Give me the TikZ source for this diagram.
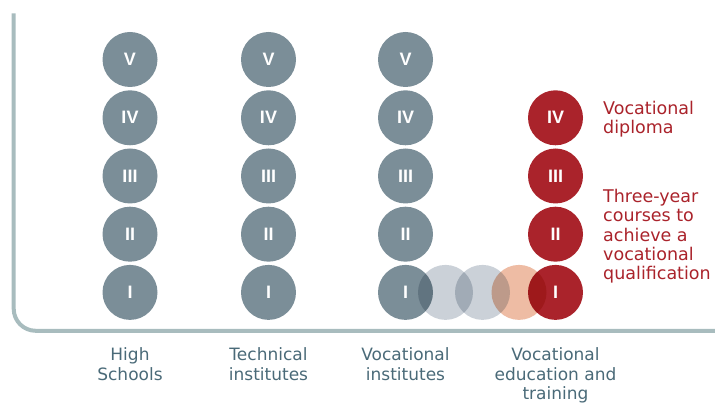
\documentclass[tikz,border=0pt]{standalone}
\usepackage{fontspec}
\setmainfont{DejaVu Sans}
\newfontfamily\numfont{Liberation Sans}
\definecolor{frame}{HTML}{A8BCBE}
\definecolor{dgrey}{HTML}{7B8E98}
\definecolor{lgrey}{HTML}{CBD1D8}
\definecolor{peach}{HTML}{EEBCA4}
\definecolor{vred}{HTML}{AA232B}
\definecolor{labelc}{HTML}{4A6A78}
\tikzset{
  numf/.style={text=white, font=\numfont\fontsize{18}{20}\selectfont\bfseries},
  yr/.style={circle, minimum size=55pt, inner sep=0pt, numf},
  gy/.style={yr, fill=dgrey},
  rd/.style={yr, fill=vred},
  ghost/.style={circle, minimum size=55pt, inner sep=0pt},
  lbl/.style={anchor=north, align=center, inner sep=0pt, text=labelc, font=\fontsize{17}{19.5}\selectfont},
  note/.style={anchor=north west, align=left, inner sep=0pt, text=vred, font=\fontsize{17.5}{19.3}\selectfont},
}
\begin{document}
\begin{tikzpicture}[x=1pt,y=-1pt]
\useasboundingbox (0,0) rectangle (715,403);
% frame
\coordinate (ftop) at (13.7,13.3);
\coordinate (fend) at (716,330.8);
\draw[frame, line width=4pt, rounded corners=22pt] (ftop) -- (13.7,330.8) -- (fend);
% columns
\foreach \c/\x in {hs/130, ti/268.5, vi/405.5}{
  \node[gy] (\c5) at (\x,59.5) {V};
  \node[gy] (\c4) at (\x,117.8) {IV};
  \node[gy] (\c3) at (\x,176) {III};
  \node[gy] (\c2) at (\x,234.2) {II};
}
\node[gy] (hs1) at (130,292.4) {};
\node[gy] (ti1) at (268.5,292.4) {};
\node[rd] (ve4) at (555.5,117.8) {IV};
\node[rd] (ve3) at (555.5,176) {III};
\node[rd] (ve2) at (555.5,234.2) {II};
% transition circles (multiply blend)
\begin{scope}[blend group=multiply]
  \node[ghost, fill=dgrey] (vi1) at (405.5,292.4) {};
  \node[ghost, fill=lgrey] (g1) at (445.5,292.4) {};
  \node[ghost, fill=lgrey] (g2) at (482.5,292.4) {};
  \node[ghost, fill=peach] (g3) at (519,292.4) {};
  \node[ghost, fill=vred] (ve1) at (555.5,292.4) {};
\end{scope}
\foreach \n in {hs1, ti1, vi1, ve1}{
  \node[numf] at (\n) {I};
}
% labels
\node[lbl] (lhs) at (130,347.5) {High\\Schools};
\node[lbl] (lti) at (268.5,347.5) {Technical\\institutes};
\node[lbl] (lvi) at (405.5,347.5) {Vocational\\institutes};
\node[lbl] (lve) at (555.5,347.5) {Vocational\\education and\\training};
% notes
\node[note] (n1) at (603,101) {Vocational\\diploma};
\node[note] (n2) at (603,189) {Three-year\\courses to\\achieve a\\vocational\\qualification};
\end{tikzpicture}
\end{document}
